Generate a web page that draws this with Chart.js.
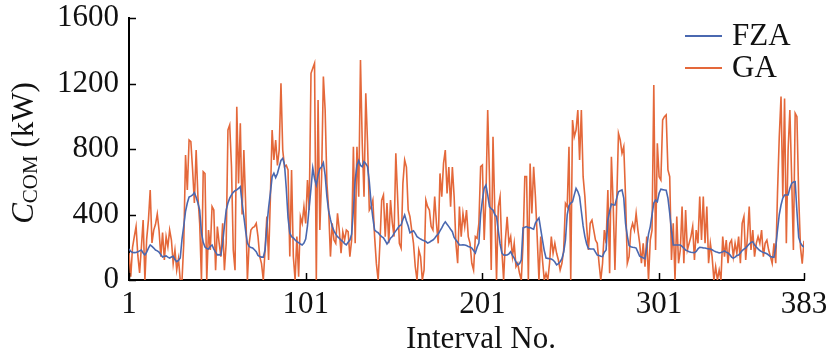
<!DOCTYPE html>
<html><head><meta charset="utf-8">
<script src="https://cdn.jsdelivr.net/npm/chart.js@4.4.1/dist/chart.umd.min.js"></script>
<style>html,body{margin:0;padding:0;background:#fff;}canvas{display:block;}</style>
</head><body>
<canvas id="c" width="831" height="362"></canvas>
<script>
const intervals = Array.from({length: 383}, (_, i) => i + 1);
const xTickValues = [1, 101, 201, 301, 383];
const yTickValues = [0, 400, 800, 1200, 1600];
const seriesNames = ['FZA', 'GA'];

const fza = [
190,175,168,167,168,172,178,183,165,153,
170,195,214,205,195,183,178,170,155,140,
145,147,140,134,140,145,125,112,120,134,
250,330,420,470,506,512,519,533,505,470,
427,287,230,201,192,189,205,214,189,170,
153,155,153,226,330,427,470,500,520,535,
545,550,560,570,470,387,300,226,205,198,
195,185,173,150,143,140,140,183,330,440,
530,630,652,625,650,692,730,743,705,560,
380,287,265,257,245,234,228,220,214,225,
250,330,448,560,684,620,580,640,680,692,
716,640,509,420,370,326,300,280,265,255,
244,235,222,214,230,244,280,430,611,700,
729,700,692,723,710,692,600,470,380,305,
295,289,275,265,257,240,220,235,255,265,
285,300,315,330,336,370,397,360,330,289,
295,301,285,265,257,250,244,240,235,226,
230,238,244,255,270,281,300,318,340,355,
340,326,310,295,260,244,230,214,214,215,
214,210,205,201,195,180,165,200,226,400,
488,560,580,520,448,435,427,400,387,300,
220,165,153,152,153,160,173,150,134,110,
92,100,122,318,322,326,320,320,315,310,
348,365,379,310,244,180,134,132,130,128,
122,110,92,100,112,130,170,244,400,455,
470,478,520,560,540,509,420,330,265,220,
192,190,189,189,170,153,150,145,143,170,
183,366,420,464,460,458,500,539,545,550,
500,346,270,210,203,200,198,195,170,145,
140,135,130,200,280,326,400,470,488,478,
530,555,552,550,548,500,408,300,214,214,
214,214,214,205,195,183,178,173,170,168,
167,175,190,200,198,196,195,192,190,189,
185,178,173,170,165,168,172,177,170,165,
155,140,134,140,150,153,165,180,189,195,
208,220,230,234,215,201,190,180,173,168,
165,160,152,143,140,140,200,305,400,458,
500,519,519,519,560,590,598,600,420,260,
226,210,201
];

const ga = [
165,20,200,265,326,150,43,200,366,0,
250,366,550,226,305,340,403,305,143,290,
122,265,203,305,244,100,183,60,130,0,
0,226,763,550,855,845,672,470,794,510,
346,0,661,650,0,305,183,448,427,60,
326,226,143,346,60,226,916,947,692,183,
60,1058,590,957,400,794,468,0,224,305,
320,326,346,265,143,100,0,183,387,122,
500,916,733,855,700,794,1201,794,692,700,
672,143,672,143,0,265,20,387,346,448,
346,611,427,1262,1293,1323,0,1099,305,631,
1242,1038,590,427,143,346,244,224,407,305,
163,295,244,305,295,143,244,814,224,814,
509,1343,835,509,1140,835,427,448,488,265,
100,0,224,488,519,265,470,224,488,350,
265,774,509,224,195,590,733,690,427,387,
305,224,81,0,183,143,0,61,488,448,
427,326,305,509,346,224,651,509,712,794,
529,690,448,690,509,224,102,448,265,407,
326,427,265,224,102,61,265,255,346,692,
702,244,509,1038,631,61,875,427,0,448,
509,183,0,244,386,224,265,143,224,81,
102,41,0,224,631,631,0,712,407,692,
509,265,0,265,122,0,41,0,102,265,
163,224,163,122,61,102,183,468,448,814,
0,977,875,916,1038,733,1038,631,509,326,
183,346,366,305,244,224,102,0,102,305,
224,549,41,753,468,61,468,896,855,774,
814,509,102,143,305,346,305,407,305,224,
102,224,81,265,0,244,305,1191,183,835,
631,611,977,997,1008,672,631,122,346,0,
387,102,183,448,102,427,183,224,265,326,
122,305,224,509,244,509,224,448,102,224,
143,0,81,0,61,0,265,143,244,102,
224,244,143,224,163,265,102,346,387,122,
265,448,183,305,143,224,265,224,305,143,
224,244,183,143,102,224,102,529,875,1120,
509,1109,224,794,1038,631,183,1018,997,509,
200,100,240
];

const FONT = '"Liberation Serif", "Times New Roman", serif';
const BLUE = '#4a68b0';
const ORANGE = '#e4683a';

const decor = {
  id: 'decor',
  afterDraw(chart) {
    const ctx = chart.ctx, ca = chart.chartArea, xs = chart.scales.x, ys = chart.scales.y;
    ctx.save();
    ctx.strokeStyle = '#000';
    ctx.lineWidth = 1.5;
    xTickValues.forEach(v => {
      const px = Math.round(xs.getPixelForValue(v)) + 0.5;
      ctx.beginPath(); ctx.moveTo(px, ca.bottom); ctx.lineTo(px, ca.bottom - 7); ctx.stroke();
    });
    yTickValues.forEach(v => {
      const py = Math.round(ys.getPixelForValue(v)) + 0.5;
      ctx.beginPath(); ctx.moveTo(ca.left, py); ctx.lineTo(ca.left + 7, py); ctx.stroke();
    });
    // legend
    ctx.font = '31px ' + FONT;
    ctx.textBaseline = 'middle';
    ctx.textAlign = 'left';
    ctx.fillStyle = '#111';
    const lg = [[seriesNames[0], BLUE, 36], [seriesNames[1], ORANGE, 68]];
    lg.forEach(([name, col, y]) => {
      ctx.strokeStyle = col; ctx.lineWidth = 1.8;
      ctx.beginPath(); ctx.moveTo(685, y); ctx.lineTo(722, y); ctx.stroke();
      ctx.fillText(name, 732, y + 1);
    });
    // x title
    ctx.textAlign = 'center';
    ctx.fillText('Interval No.', 481, 340);
    // y title
    ctx.translate(33, 153);
    ctx.rotate(-Math.PI / 2);
    ctx.textBaseline = 'alphabetic';
    ctx.textAlign = 'left';
    const fC = 'italic 31px ' + FONT, fSub = '21px ' + FONT, fR = '31px ' + FONT;
    ctx.font = fC; const wC = ctx.measureText('C').width;
    ctx.font = fSub; const wS = ctx.measureText('COM').width;
    ctx.font = fR; const wR = ctx.measureText(' (kW)').width;
    let sx = -(wC + wS + wR) / 2;
    ctx.font = fC; ctx.fillText('C', sx, 0);
    ctx.font = fSub; ctx.fillText('COM', sx + wC, 4);
    ctx.font = fR; ctx.fillText(' (kW)', sx + wC + wS, 0);
    ctx.restore();
  }
};

new Chart(document.getElementById('c'), {
  type: 'line',
  data: {
    datasets: [
      { label: seriesNames[0], data: intervals.map((x, i) => ({x, y: fza[i]})), borderColor: BLUE, borderWidth: 1.6, pointRadius: 0, tension: 0, fill: false },
      { label: seriesNames[1], data: intervals.map((x, i) => ({x, y: ga[i]})), borderColor: ORANGE, borderWidth: 1.6, pointRadius: 0, tension: 0, fill: false }
    ]
  },
  options: {
    responsive: false,
    animation: false,
    layout: { padding: { top: 18, right: 27, left: 0, bottom: 0 } },
    plugins: { legend: { display: false }, tooltip: { enabled: false } },
    scales: {
      x: {
        type: 'linear', min: 1, max: 383,
        afterBuildTicks: s => { s.ticks = xTickValues.map(v => ({value: v})); },
        afterFit: s => { s.height = 82; s.paddingLeft = 0; s.paddingRight = 0; },
        grid: { display: false, drawTicks: false },
        border: { display: true, color: '#000', width: 2 },
        ticks: { autoSkip: false, maxRotation: 0, padding: 6, color: '#111', font: { family: FONT, size: 31 }, callback: v => String(v) }
      },
      y: {
        min: 0, max: 1600,
        afterBuildTicks: s => { s.ticks = yTickValues.map(v => ({value: v})); },
        afterFit: s => { s.width = 129; s.paddingTop = 0; s.paddingBottom = 0; },
        grid: { display: false, drawTicks: false },
        border: { display: true, color: '#000', width: 2 },
        ticks: { padding: 10, color: '#111', font: { family: FONT, size: 31 }, callback: v => String(v) }
      }
    }
  },
  plugins: [decor]
});
</script>
</body></html>
